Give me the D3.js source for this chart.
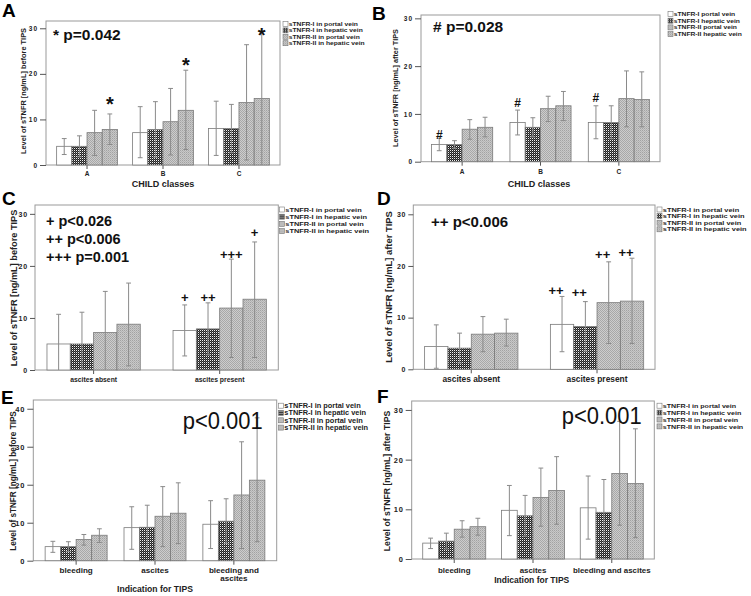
<!DOCTYPE html>
<html><head><meta charset="utf-8">
<script src="https://cdn.jsdelivr.net/npm/d3@7"></script>
<style>
html,body{margin:0;padding:0;background:#fff;}
svg{display:block;font-family:"Liberation Sans",Arial,sans-serif;}
</style></head>
<body><svg id="chart" width="751" height="596"></svg>
<script>
// ---------------- data ----------------
const legendLong = ["sTNFR-I in portal vein","sTNFR-I in hepatic vein","sTNFR-II in portal vein","sTNFR-II in hepatic vein"];
const legendShort = ["sTNFR-I portal vein","sTNFR-I hepatic vein","sTNFR-II portal vein","sTNFR-II hepatic vein"];
const childCats = ["A","B","C"];
const ascitesCats = ["ascites absent","ascites present"];
const indicationCats = ["bleeding","ascites","bleeding and ascites"];
const ticks30 = [0,10,20,30];
const ticks40 = [0,10,20,30,40];

// series x category (series: sTNFR-I portal, sTNFR-I hepatic, sTNFR-II portal, sTNFR-II hepatic)
const aMean = [[4.1,7.1,8.0],[4.1,7.8,8.0],[7.1,9.5,13.7],[7.8,12.0,14.6]];
const aLow  = [[2.3,1.6,2.1],[1.8,1.7,2.7],[2.1,2.2,1.1],[4.5,3.4,0.0]];
const aHigh = [[5.8,12.8,14.0],[6.4,13.9,13.3],[12.0,16.8,26.4],[11.2,20.8,29.2]];

const bMean = [[3.6,8.2,8.2],[3.6,7.2,8.2],[6.8,11.1,13.2],[7.2,11.7,13.0]];
const bLow  = [[2.3,5.6,4.8],[2.8,5.2,4.8],[4.7,8.4,7.3],[5.2,8.6,7.3]];
const bHigh = [[4.9,10.8,11.7],[4.4,9.2,11.7],[8.8,13.7,19.0],[9.3,14.7,18.8]];

const cMean = [[5.0,7.6],[5.0,7.9],[7.2,11.9],[8.8,13.6]];
const cLow  = [[0.0,2.7],[0.0,2.9],[0.0,2.4],[0.8,2.4]];
const cHigh = [[10.7,12.5],[11.1,12.9],[15.1,21.3],[16.7,24.6]];

const dMean = [[4.4,8.7],[4.1,8.3],[6.8,12.9],[7.0,13.2]];
const dLow  = [[0.2,3.4],[1.2,3.5],[3.4,5.0],[4.5,5.0]];
const dHigh = [[8.6,14.1],[7.0,13.1],[10.2,20.8],[9.7,21.5]];

const eMean = [[3.7,8.7,9.6],[3.7,8.8,10.4],[5.6,11.7,17.3],[6.7,12.5,21.2]];
const eLow  = [[2.2,3.0,3.2],[2.4,3.0,4.5],[4.1,3.7,3.2],[4.8,4.5,5.0]];
const eHigh = [[5.1,14.2,15.8],[5.0,14.6,16.3],[6.9,19.5,31.3],[8.4,20.5,37.6]];

const fMean = [[3.2,9.8,10.3],[3.6,8.7,9.4],[6.0,12.4,17.2],[6.5,13.8,15.2]];
const fLow  = [[2.1,4.7,4.0],[2.0,4.6,2.8],[4.4,6.6,6.8],[4.8,7.0,4.3]];
const fHigh = [[4.2,14.8,16.7],[5.2,12.8,16.0],[7.7,18.3,27.7],[8.2,20.6,26.2]];

// significance markers: category, series, value (glyph centre), text
const aMarks = [{c:0,s:3,v:14.0,t:"*"},{c:1,s:3,v:22.6,t:"*"},{c:2,s:3,v:29.2,t:"*"}];
const bMarks = [{c:0,s:0,v:5.6,t:"#"},{c:1,s:0,v:12.3,t:"#"},{c:2,s:0,v:13.3,t:"#"}];
const cMarks = [{c:1,s:0,v:13.9,t:"+"},{c:1,s:1,v:13.9,t:"++"},{c:1,s:2,v:22.1,t:"+++"},{c:1,s:3,v:26.3,t:"+"}];
const dMarks = [{c:1,s:0,v:15.3,t:"++"},{c:1,s:1,v:14.8,t:"++"},{c:1,s:2,v:22.1,t:"++"},{c:1,s:3,v:22.6,t:"++"}];

const aNotes = ["* p=0.042"];
const bNotes = ["# p=0.028"];
const cNotes = ["+ p<0.026","++ p<0.006","+++ p=0.001"];
const dNotes = ["++ p<0.006"];
const eNotes = ["p<0.001"];
const fNotes = ["p<0.001"];

const yLabelBefore = "Level of sTNFR [ng/mL] before TIPS";
const yLabelAfter = "Level of sTNFR [ng/mL] after TIPS";

// ---------------- drawing ----------------
const svg = d3.select("#chart");
const defs = svg.append("defs");
function pat(id, size, bg, dots){
  const p = defs.append("pattern").attr("id",id).attr("patternUnits","userSpaceOnUse")
    .attr("width",size).attr("height",size);
  p.append("rect").attr("width",size).attr("height",size).attr("fill",bg);
  dots.forEach(d=>p.append("rect").attr("x",d[0]).attr("y",d[1]).attr("width",1).attr("height",1).attr("fill",d[2]));
}
pat("p1",2,"#222",[[0,0,"#f0f0f0"],[1,1,"#5a5a5a"]]);
pat("p2",2,"#cdcdcd",[[0,0,"#a8a8a8"],[1,1,"#a8a8a8"]]);
pat("p3",2,"#c8c8c8",[[0,0,"#a2a2a2"],[1,1,"#b4b4b4"]]);
const fills = ["#ffffff","url(#p1)","url(#p2)","url(#p3)"];
const FRAME = "#9a9a9a", ERR = "#8a8a8a", BARSTROKE = "#7a7a7a";

function drawPanel(P){
  const g = svg.append("g");
  const L = P.layout;
  const nCat = P.cats.length;
  const x0 = d3.scaleBand().domain(d3.range(nCat)).range([L.l, L.r]).paddingInner(L.pI).paddingOuter(L.pO);
  const x1 = d3.scaleBand().domain(d3.range(4)).range([0, x0.bandwidth()]);
  const y = d3.scaleLinear().domain([0, L.yMax]).range([L.b, L.t]);

  g.append("rect").attr("x",L.l).attr("y",L.t).attr("width",L.r-L.l).attr("height",L.b-L.t)
    .attr("fill","none").attr("stroke",FRAME).attr("stroke-width",1);

  const ya = g.append("g").attr("transform",`translate(${L.l},0)`)
    .call(d3.axisLeft(y).tickValues(P.ticks).tickSize(L.tick).tickPadding(2).tickFormat(d3.format("d")));
  ya.select(".domain").remove();
  ya.selectAll("line").attr("stroke","#555");
  ya.selectAll("text").attr("font-size",L.tickFs).attr("font-weight","bold").attr("fill","#222")
    .attr("font-family","'Liberation Sans',Arial,sans-serif").attr("letter-spacing",L.ls||0);

  const xa = g.append("g").attr("transform",`translate(0,${L.b})`)
    .call(d3.axisBottom(x0).tickSize(4).tickFormat(i=>P.cats[i]));
  xa.select(".domain").remove();
  xa.selectAll("line").attr("stroke","#555");
  xa.selectAll("text").attr("font-size",L.xFs).attr("font-weight","bold").attr("fill","#222")
    .attr("font-family","'Liberation Sans',Arial,sans-serif")
    .attr("y",null).attr("dy",null).attr("transform",null)
    .each(function(i){
      const t = d3.select(this);
      const label = P.cats[i];
      const lines = (L.wrap && label.length > L.wrap) ? [label.split(" ").slice(0,2).join(" "), label.split(" ").slice(2).join(" ")] : [label];
      t.text(null);
      lines.forEach((ln,k)=>t.append("tspan").attr("x",0).attr("y",L.xBase - L.b + k*L.xLine).text(ln));
    });

  for(let s=0;s<4;s++){
    g.append("g").selectAll("rect").data(P.mean[s]).join("rect")
      .attr("x",(d,i)=>x0(i)+x1(s)).attr("y",d=>y(d))
      .attr("width",x1.bandwidth()).attr("height",d=>y(0)-y(d))
      .attr("fill",fills[s]).attr("stroke",BARSTROKE).attr("stroke-width",0.8);
  }
  const cap = 2.4;
  for(let s=0;s<4;s++){
    const eg = g.append("g").attr("stroke",ERR).attr("stroke-width",1);
    P.mean[s].forEach((m,i)=>{
      const cx = x0(i)+x1(s)+x1.bandwidth()/2;
      const lo = Math.max(0,P.low[s][i]), hi = P.high[s][i];
      eg.append("line").attr("x1",cx).attr("x2",cx).attr("y1",y(lo)).attr("y2",y(hi));
      eg.append("line").attr("x1",cx-cap).attr("x2",cx+cap).attr("y1",y(hi)).attr("y2",y(hi));
      if(lo>0) eg.append("line").attr("x1",cx-cap).attr("x2",cx+cap).attr("y1",y(lo)).attr("y2",y(lo));
    });
  }

  if(P.marks){
    g.append("g").selectAll("text").data(P.marks).join("text")
      .attr("x",d=>x0(d.c)+x1(d.s)+x1.bandwidth()/2+(L.markDx||0))
      .attr("y",d=>y(d.v)+L.markFs*L.markOff)
      .attr("text-anchor","middle").attr("font-size",L.markFs).attr("font-weight","bold")
      .attr("fill","#111").text(d=>d.t);
  }

  P.notes.forEach((n,k)=>{
    const t = g.append("text").attr("x",L.noteX).attr("y",L.noteY + k*L.noteLine)
      .attr("font-size",L.noteFs).attr("font-weight",L.noteW).attr("fill","#111").text(n);
    if(L.noteLen) t.attr("textLength",L.noteLen).attr("lengthAdjust","spacingAndGlyphs");
  });

  const lg = g.append("g").attr("transform",`translate(${L.legX},${L.legY})`);
  const fsSmall = Math.min(L.legFs, L.legSp/1.16);
  P.legend.forEach((lab,k)=>{
    const row = lg.append("g").attr("transform",`translate(0,${k*L.legSp})`);
    row.append("rect").attr("x",0).attr("y",-L.sw/2).attr("width",L.sw).attr("height",L.sw)
      .attr("fill",fills[k]).attr("stroke","#777").attr("stroke-width",0.6);
    const t = row.append("text").attr("x",L.sw+0.8).attr("y",L.legFs*0.36).attr("font-size",L.legFs)
      .attr("font-weight","bold").attr("fill","#222").text(lab);
    const w = t.node().getComputedTextLength();
    t.attr("font-size",fsSmall).attr("y",fsSmall*0.36).attr("textLength",w).attr("lengthAdjust","spacingAndGlyphs");
  });

  g.append("text").attr("transform",`translate(${L.ylX},${L.ylY}) rotate(-90)`)
    .attr("text-anchor","middle").attr("font-size",L.ylFs).attr("font-weight","bold")
    .attr("fill","#222").attr("dy","0.35em").text(P.ylabel);

  if(P.xtitle){
    g.append("text").attr("x",L.xtX).attr("y",L.xtY).attr("text-anchor","middle")
      .attr("font-size",L.xtFs).attr("font-weight","bold").attr("fill","#222").text(P.xtitle);
  }

  g.append("text").attr("x",L.letX).attr("y",L.letY).attr("font-size",19).attr("font-weight","bold")
    .attr("fill","#000").text(P.letter);
}

const panels = [
  {letter:"A", cats:childCats, ticks:ticks30, mean:aMean, low:aLow, high:aHigh, marks:aMarks, notes:aNotes,
   legend:legendLong, ylabel:yLabelBefore, xtitle:"CHILD classes",
   layout:{l:46,r:280,t:21,b:165,yMax:31.6,pI:0.2,pO:0.14,tick:6,tickFs:6.5,ls:1,xFs:6.5,xBase:175.5,xLine:8,
     markFs:20,markOff:0.5,noteX:53,noteY:40,noteLine:18,noteFs:15.5,noteW:"bold",
     legX:283,legY:24,legSp:6.4,legFs:6.7,sw:5,ylX:23,ylY:91,ylFs:7.4,xtX:163,xtY:187,xtFs:9,letX:2,letY:17}},
  {letter:"B", cats:childCats, ticks:ticks30, mean:bMean, low:bLow, high:bHigh, marks:bMarks, notes:bNotes,
   legend:legendShort, ylabel:yLabelAfter, xtitle:"CHILD classes",
   layout:{l:421,r:660,t:15,b:161.7,yMax:30.7,pI:0.22,pO:0.135,tick:6,tickFs:6.5,ls:1,xFs:6.5,xBase:174,xLine:8,
     markFs:12,markOff:0.36,noteX:433,noteY:32,noteLine:18,noteFs:15.5,noteW:"bold",
     legX:668,legY:14,legSp:6.7,legFs:6.7,sw:5,ylX:395.5,ylY:88,ylFs:7.3,xtX:539,xtY:187,xtFs:9,letX:372,letY:20}},
  {letter:"C", cats:ascitesCats, ticks:ticks30, mean:cMean, low:cLow, high:cHigh, marks:cMarks, notes:cNotes,
   legend:legendLong, ylabel:yLabelBefore, xtitle:null,
   layout:{l:35,r:278.3,t:205,b:370,yMax:31.7,pI:0.26,pO:0.095,tick:5,tickFs:7,ls:0.8,xFs:6.8,xBase:382,xLine:8,
     markFs:13,markOff:0.33,noteX:46,noteY:226,noteLine:18,noteFs:14.5,noteW:"bold",
     legX:279.5,legY:209.5,legSp:7.2,legFs:7.4,sw:5,ylX:13.5,ylY:288,ylFs:9.2,letX:2,letY:205}},
  {letter:"D", cats:ascitesCats, ticks:ticks30, mean:dMean, low:dLow, high:dHigh, marks:dMarks, notes:dNotes,
   legend:legendLong, ylabel:yLabelAfter, xtitle:null,
   layout:{l:413.3,r:655,t:205,b:369.3,yMax:31.8,pI:0.258,pO:0.09,tick:5,tickFs:7,ls:0.8,xFs:8.4,xBase:382,xLine:8,
     markFs:13,markOff:0.33,markDx:-6,noteX:431,noteY:227,noteLine:18,noteFs:15,noteW:"bold",
     legX:657,legY:209.5,legSp:6.6,legFs:7.4,sw:5,ylX:388.5,ylY:287,ylFs:9.4,letX:377,letY:205}},
  {letter:"E", cats:indicationCats, ticks:ticks40, mean:eMean, low:eLow, high:eHigh, marks:null, notes:eNotes,
   legend:legendLong, ylabel:yLabelBefore, xtitle:"Indication for TIPS",
   layout:{l:33.3,r:276.7,t:400,b:560.7,yMax:42.3,pI:0.214,pO:0.15,tick:6,tickFs:7.5,ls:0.8,xFs:8.1,xBase:573,xLine:7.8,wrap:12,
     noteX:182.7,noteY:429,noteLine:0,noteFs:24,noteW:"normal",noteLen:80,
     legX:278.5,legY:405.7,legSp:7.3,legFs:7.4,sw:5,ylX:13,ylY:481,ylFs:8.2,xtX:155,xtY:592,xtFs:8.6,letX:1,letY:404}},
  {letter:"F", cats:indicationCats, ticks:ticks30, mean:fMean, low:fLow, high:fHigh, marks:null, notes:fNotes,
   legend:legendLong, ylabel:yLabelAfter, xtitle:"Indication for TIPS",
   layout:{l:411.7,r:654.3,t:401,b:559,yMax:31.8,pI:0.2,pO:0.14,tick:6,tickFs:7.5,ls:0.8,xFs:7.9,xBase:573,xLine:8,
     noteX:561.7,noteY:424,noteLine:0,noteFs:24,noteW:"normal",noteLen:80,
     legX:657,legY:405.7,legSp:6.9,legFs:7.1,sw:5,ylX:386.7,ylY:481,ylFs:8.7,xtX:531.7,xtY:583,xtFs:8.5,letX:377,letY:403}}
];
panels.forEach(drawPanel);
</script></body></html>
